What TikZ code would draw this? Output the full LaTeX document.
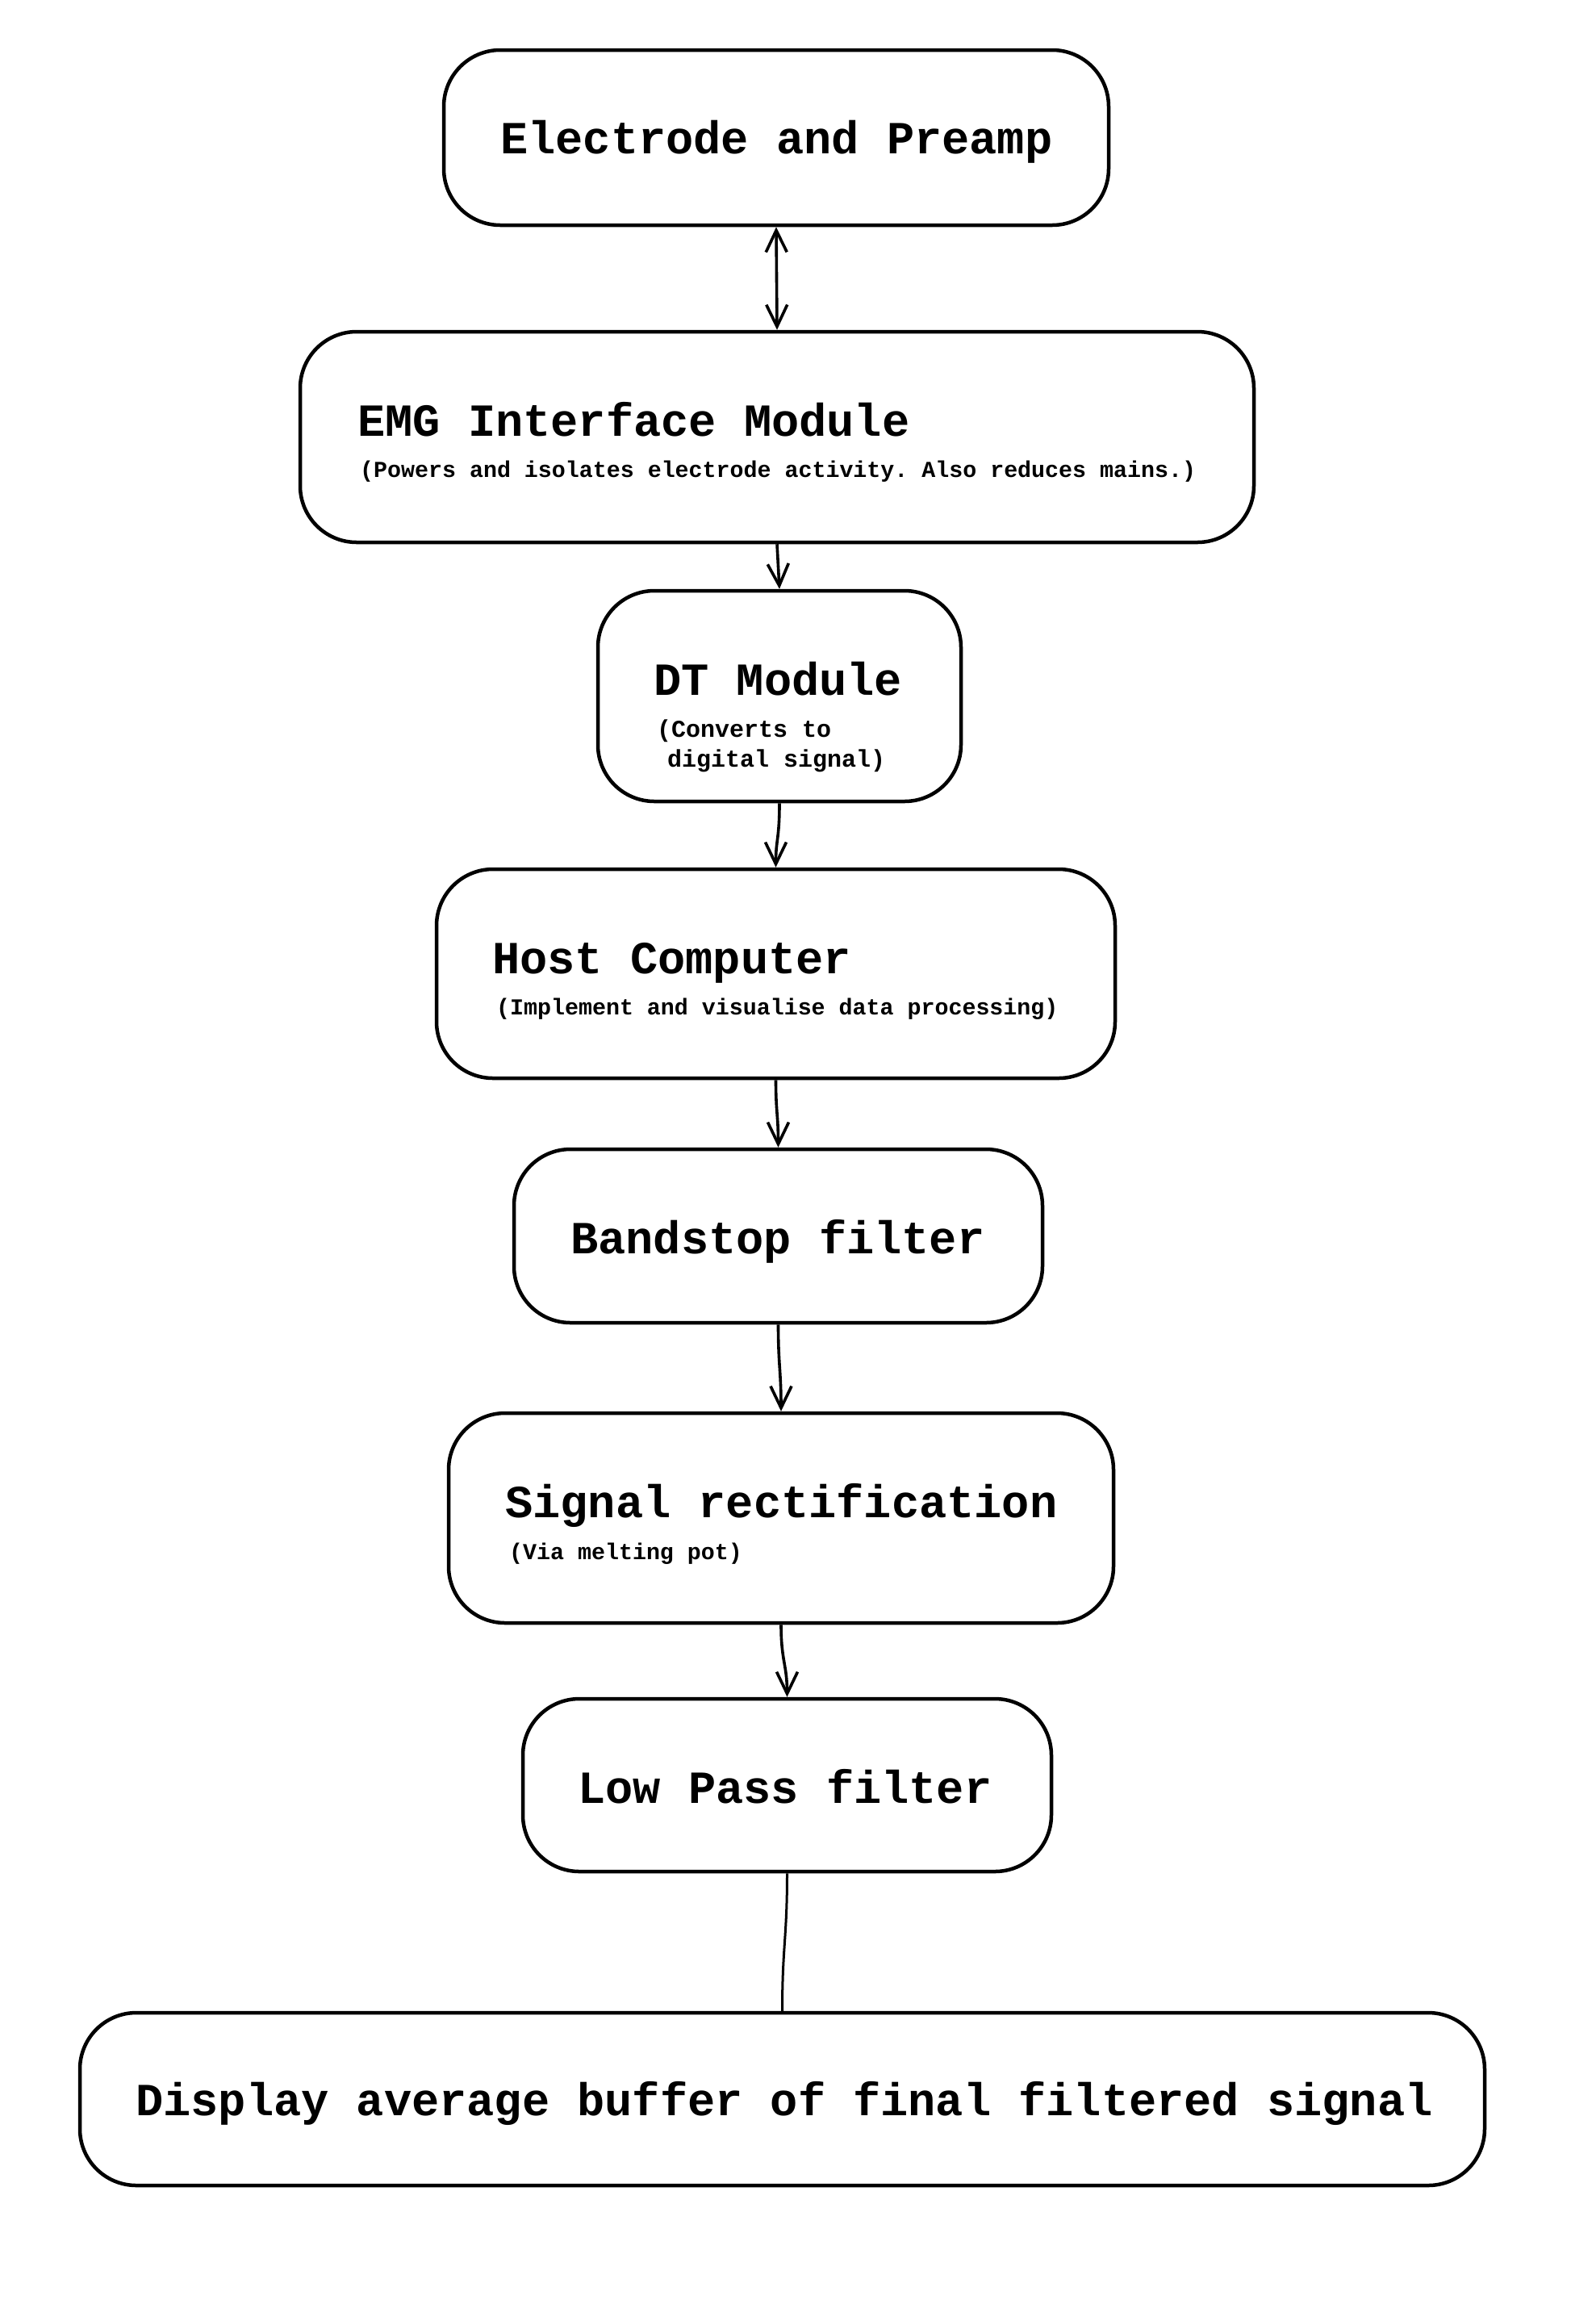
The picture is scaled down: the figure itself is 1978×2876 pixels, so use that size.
\documentclass[tikz,border=0pt]{standalone}
\usepackage{fontspec}
\setmonofont{Liberation Mono}
\usetikzlibrary{arrows.meta}
\tikzset{
  >={Straight Barb[length=27pt,width=26pt]},
  box/.style={draw, line width=4.5pt, rounded corners=70pt, inner sep=0pt, rectangle},
  ttl/.style={font=\fontsize{57}{60}\selectfont\ttfamily\bfseries, anchor=base west, inner sep=0pt},
  sub/.style={font=\fontsize{28.3}{34}\selectfont\ttfamily\bfseries, anchor=base west, inner sep=0pt},
  subb/.style={font=\fontsize{30}{36}\selectfont\ttfamily\bfseries, anchor=base west, inner sep=0pt},
  conn/.style={line width=3.6pt, ->},
}
\begin{document}
\begin{tikzpicture}[x=1pt,y=-1pt]
\fill[white] (0,0) rectangle (1978,2876);
\useasboundingbox (0,0) rectangle (1978,2876);

\node[box, minimum width=824, minimum height=217] (b1) at (962,170.5) {};
\node[box, minimum width=1182, minimum height=261] (b2) at (963,541.5) {};
\node[box, minimum width=450, minimum height=261] (b3) at (966,862.5) {};
\node[box, minimum width=841, minimum height=259] (b4) at (961.5,1206.5) {};
\node[box, minimum width=655, minimum height=215] (b5) at (964.5,1531.5) {};
\node[box, minimum width=824, minimum height=260] (b6) at (968,1881) {};
\node[box, minimum width=655, minimum height=214] (b7) at (975.5,2212) {};
\node[box, minimum width=1741, minimum height=214] (b8) at (969.5,2601) {};

\node[ttl] (t1) at (620,190) {Electrode and Preamp};
\node[ttl] (t2) at (443,540) {EMG Interface Module};
\node[sub] (s2) at (446,591) {(Powers and isolates electrode activity. Also reduces mains.)};
\node[ttl] (t3) at (810,861) {DT Module};
\node[subb] (s3a) at (814,913) {(Converts to};
\node[subb] (s3b) at (827,950) {digital signal)};
\node[ttl] (t4) at (610,1206) {Host Computer};
\node[sub] (s4) at (615,1257) {(Implement and visualise data processing)};
\node[ttl] (t5) at (707,1553) {Bandstop filter};
\node[ttl] (t6) at (626,1880) {Signal rectification};
\node[sub] (s6) at (631,1932) {(Via melting pot)};
\node[ttl] (t7) at (716,2234) {Low Pass filter};
\node[ttl] (t8) at (168,2621) {Display average buffer of final filtered signal};

\draw[line width=3.6pt, <->] (b1.south) -- (b2.north);
\draw[conn] (b2.south) -- (b3.north);
\draw[conn] (b3.south) .. controls +(0,45) and +(0,-35) .. (b4.north);
\draw[conn] (b4.south) .. controls +(0,40) and +(0,-40) .. (b5.north);
\draw[conn] (b5.south) .. controls +(0,50) and +(0,-50) .. (b6.north);
\draw[conn] (b6.south) .. controls +(0,45) and +(0,-40) .. (b7.north);
\draw[line width=3pt] (b7.south) .. controls +(0,80) and +(0,-80) .. (b8.north);
\end{tikzpicture}
\end{document}
